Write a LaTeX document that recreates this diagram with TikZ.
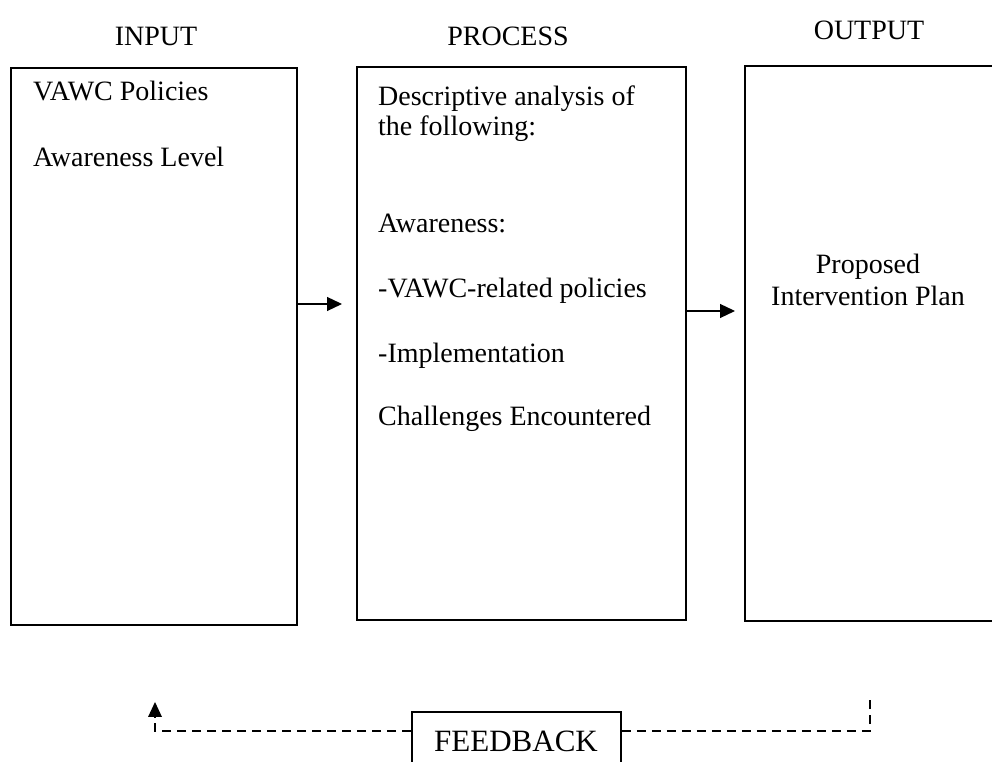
\documentclass[tikz,border=0pt]{standalone}
\usepackage{fontspec}
\setmainfont{Liberation Serif}
\usetikzlibrary{arrows.meta}
\begin{document}
\begin{tikzpicture}[x=1pt,y=1pt,
  box/.style={draw, line width=1.6pt, inner sep=0},
  body/.style={inner sep=0, font=\fontsize{28}{32}\selectfont},
  lefttxt/.style={body, anchor=base west},
  midtxt/.style={body, anchor=base},
  flow/.style={line width=1.2pt, -{Triangle[length=15pt,width=14pt]}},
  back/.style={line width=1.6pt, dash pattern=on 9pt off 6pt},
]
\useasboundingbox (0,0) rectangle (992,762);

% column headings
\node[midtxt] (hin)   at (156,716) {INPUT};
\node[midtxt] (hpro)  at (508,716) {PROCESS};
\node[midtxt] (hout)  at (869,722) {OUTPUT};

% the three stage boxes (the last runs off the right edge)
\node[box, minimum width=286, minimum height=557] (input)   at (154,415.5) {};
\node[box, minimum width=329, minimum height=553] (process) at (521.5,418.5) {};
\node[box, minimum width=270, minimum height=555] (output)  at (880,418.5) {};

% input contents
\node[lefttxt] (in1) at (33,661) {VAWC Policies};
\node[lefttxt] (in2) at (33,595) {Awareness Level};

% process contents
\node[lefttxt] (p1) at (378,656) {Descriptive analysis of};
\node[lefttxt] (p2) at (378,626) {the following:};
\node[lefttxt] (p3) at (378,529) {Awareness:};
\node[lefttxt] (p4) at (378,464) {-VAWC-related policies};
\node[lefttxt] (p5) at (378,399) {-Implementation};
\node[lefttxt] (p6) at (378,336) {Challenges Encountered};

% output contents
\node[midtxt] (o1) at (868,488) {Proposed};
\node[midtxt] (o2) at (868,456) {Intervention Plan};

% forward arrows between stages
\coordinate (a1end) at (342,458);
\coordinate (a2end) at (735,451);
\draw[flow] (input.east |- a1end) -- (a1end);
\draw[flow] (process.east |- a2end) -- (a2end);

% feedback loop
\node[box, minimum width=209, minimum height=78] (fb) at (516.5,11) {};
\node[midtxt, font=\fontsize{31}{35}\selectfont] (fbt) at (516,10) {FEEDBACK};
\coordinate (fbL) at (155,31);
\coordinate (fbR) at (870,31);
\coordinate (fbTip) at (155,60);
\coordinate (fbTop) at (870,62);
\draw[back] (fb.west |- fbL) -- (fbL) -- ([yshift=-15pt]fbTip);
\fill (fbTip) -- ++(-7,-15) -- ++(14,0) -- cycle;
\draw[back] (fb.east |- fbR) -- (fbR) -- (fbTop);
\end{tikzpicture}
\end{document}
